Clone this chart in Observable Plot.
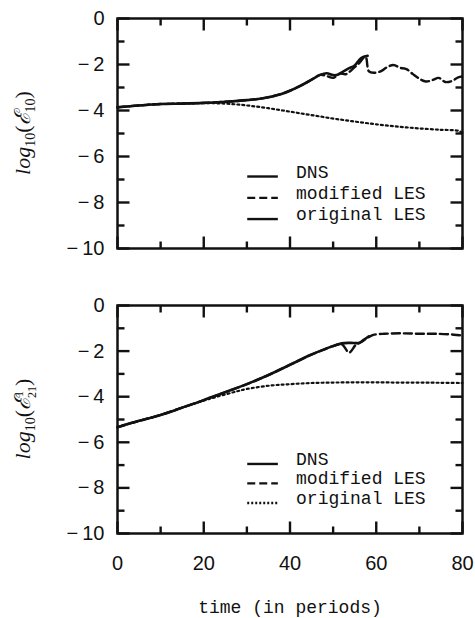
<!DOCTYPE html>
<html>
<head>
<meta charset="utf-8">
<script src="https://cdn.jsdelivr.net/npm/d3@7"></script>
<script src="https://cdn.jsdelivr.net/npm/@observablehq/plot@0.6"></script>
<style>
  body { margin: 0; background: #fff; }
  #chart svg { display: block; }
</style>
</head>
<body>
<div id="chart"></div>
<script>
// ---- Energy in mode (1,0): log10(E10) versus time (periods) ----
const e10DnsT = [0, 5, 10, 15, 20, 25, 30, 34, 38, 40, 42.5, 45, 47, 48.5, 50, 51, 52, 53.5, 55, 56.5, 58];
const e10DnsV = [-3.86, -3.78, -3.72, -3.7, -3.67, -3.62, -3.55, -3.46, -3.28, -3.14, -2.92, -2.66, -2.45, -2.38, -2.46, -2.45, -2.34, -2.18, -2.04, -1.72, -1.62];

const e10ModT = [0, 5, 10, 15, 20, 25, 30, 34, 38, 40, 42.5, 45, 47, 48.5, 50, 51.5, 53, 54.5, 56, 57.5, 58.3, 59.5, 61, 62.5, 64, 65.5, 67, 68.5, 70, 71.5, 73, 74.5, 76, 77.5, 79, 80];
const e10ModV = [-3.86, -3.78, -3.72, -3.7, -3.67, -3.62, -3.55, -3.46, -3.28, -3.14, -2.92, -2.66, -2.45, -2.5, -2.58, -2.4, -2.42, -2.2, -1.95, -1.66, -2.3, -2.36, -2.3, -2.12, -2.02, -2.14, -2.2, -2.42, -2.62, -2.74, -2.68, -2.58, -2.76, -2.72, -2.56, -2.52];

const e10OrigT = [0, 5, 10, 15, 20, 25, 30, 35, 40, 45, 50, 55, 60, 65, 70, 75, 79, 80];
const e10OrigV = [-3.86, -3.78, -3.72, -3.7, -3.68, -3.7, -3.78, -3.9, -4.05, -4.2, -4.35, -4.48, -4.6, -4.7, -4.78, -4.84, -4.88, -4.98];

// ---- Energy in the subharmonic mode: log10(E_{1/2,1}) ----
const eSubDnsT = [0, 5, 10, 15, 20, 25, 30, 35, 40, 45, 48, 50, 52, 54, 56, 57, 58.3];
const eSubDnsV = [-5.34, -5.06, -4.8, -4.48, -4.15, -3.8, -3.45, -3.05, -2.6, -2.15, -1.92, -1.78, -1.66, -1.64, -1.64, -1.52, -1.35];

const eSubModT = [0, 5, 10, 15, 20, 25, 30, 35, 40, 45, 48, 50, 52, 53.7, 55.3, 56.5, 58.3, 59.5, 62, 66, 70, 74, 78, 80];
const eSubModV = [-5.34, -5.06, -4.8, -4.48, -4.15, -3.8, -3.45, -3.05, -2.6, -2.15, -1.92, -1.78, -1.7, -2.06, -1.72, -1.6, -1.38, -1.28, -1.24, -1.22, -1.24, -1.24, -1.28, -1.32];

const eSubOrigT = [0, 5, 10, 15, 20, 22, 25, 28, 30, 35, 40, 45, 50, 55, 60, 65, 70, 75, 80];
const eSubOrigV = [-5.34, -5.06, -4.8, -4.48, -4.17, -4.06, -3.9, -3.75, -3.66, -3.52, -3.45, -3.4, -3.38, -3.37, -3.37, -3.38, -3.38, -3.39, -3.4];

// ---- Axes and legend text ----
const seriesNames = ["DNS", "modified LES", "original LES"];
const xMajorTicks = [0, 20, 40, 60, 80];
const xMinorTicks = [10, 30, 50, 70];
const yMajorTicks = [0, -2, -4, -6, -8, -10];
const yMinorTicks = [-1, -3, -5, -7, -9];
const xAxisTitle = "time (in periods)";

const WIDTH = 475;
const M_LEFT = 117, M_RIGHT = 13;
const X_DOMAIN = [0, 80], Y_DOMAIN = [-10, 0];
const MAJOR_PX = 12, MINOR_PX = 7;
const INK = "#111";
const MONO = "'Liberation Mono', 'DejaVu Sans Mono', monospace";
const SANS = "'Liberation Sans', Arial, sans-serif";
const SERIF = "'Liberation Serif', 'DejaVu Serif', serif";

const rows = (t, v) => t.map((ti, i) => ({t: ti, v: v[i]}));
const fmtY = (d) => d === 0 ? "0" : "\u2212\u2009" + Math.abs(d);

// inward tick segments on all four sides of the frame, as link endpoints in data units
function frameTickSegments(innerW, innerH) {
  const xPerPx = (X_DOMAIN[1] - X_DOMAIN[0]) / innerW;
  const yPerPx = (Y_DOMAIN[1] - Y_DOMAIN[0]) / innerH;
  const [xa, xb] = X_DOMAIN, [ya, yb] = Y_DOMAIN;
  const segs = [];
  for (const [ticks, px] of [[yMajorTicks, MAJOR_PX], [yMinorTicks, MINOR_PX]]) {
    for (const v of ticks) {
      segs.push({ax: xa, bx: xa + px * xPerPx, ay: v, by: v});
      segs.push({ax: xb - px * xPerPx, bx: xb, ay: v, by: v});
    }
  }
  for (const [ticks, px] of [[xMajorTicks, MAJOR_PX], [xMinorTicks, MINOR_PX]]) {
    for (const v of ticks) {
      segs.push({ax: v, bx: v, ay: ya, by: ya + px * yPerPx});
      segs.push({ax: v, bx: v, ay: yb - px * yPerPx, by: yb});
    }
  }
  return segs;
}

function panel({height, marginTop, marginBottom, dns, mod, orig, legendY, legendStyles, bottomAxis}) {
  const innerW = WIDTH - M_LEFT - M_RIGHT;
  const innerH = height - marginTop - marginBottom;
  const legend = seriesNames.map((name, i) => ({name, y: legendY[i], dash: legendStyles[i]}));
  const marks = [
    Plot.link(frameTickSegments(innerW, innerH), {x1: "ax", y1: "ay", x2: "bx", y2: "by",
      stroke: INK, strokeWidth: 2.4}),
    // y tick labels
    Plot.text(yMajorTicks, {x: 0, y: d => d, text: fmtY, textAnchor: "end", dx: -13,
      fontSize: 20, fontFamily: SANS, fill: INK}),
    // curves
    Plot.line(rows(orig.t, orig.v), {x: "t", y: "v", stroke: INK, strokeWidth: 2.2,
      strokeDasharray: "2,3", curve: "catmull-rom"}),
    Plot.line(rows(mod.t, mod.v), {x: "t", y: "v", stroke: INK, strokeWidth: 2.4,
      strokeDasharray: "8,4", curve: "catmull-rom"}),
    Plot.line(rows(dns.t, dns.v), {x: "t", y: "v", stroke: INK, strokeWidth: 2.6,
      curve: "catmull-rom"}),
    // legend
    ...legend.map(r => Plot.ruleY([r], {y: "y", x1: 30.2, x2: 37.3, stroke: INK,
      strokeWidth: 2.4, strokeDasharray: r.dash})),
    Plot.text(legend, {x: 41.4, y: "y", text: "name", textAnchor: "start", lineAnchor: "bottom",
      dy: 1, fontSize: 18, fontFamily: MONO, fill: INK}),
    Plot.frame({stroke: INK, strokeWidth: 2.5})
  ];
  if (bottomAxis) {
    marks.push(
      Plot.text(xMajorTicks, {x: d => d, y: -10, text: d => String(d), dy: 30,
        lineAnchor: "middle", fontSize: 20, fontFamily: SANS, fill: INK}),
      Plot.text([xAxisTitle], {frameAnchor: "bottom", text: d => d, dy: 74,
        lineAnchor: "middle", fontSize: 18, fontFamily: MONO, fill: INK})
    );
  }
  return Plot.plot({
    width: WIDTH, height,
    marginLeft: M_LEFT, marginRight: M_RIGHT, marginTop, marginBottom,
    x: {domain: X_DOMAIN, axis: null},
    y: {domain: Y_DOMAIN, axis: null},
    style: {background: "#fff", overflow: "visible"},
    marks
  });
}

// rotated y-axis title with sub/superscripts
function yTitle(svg, cy, parts) {
  const t = d3.select(svg).append("text")
    .attr("transform", `translate(30,${cy}) rotate(-90)`)
    .attr("text-anchor", "middle")
    .attr("fill", INK)
    .attr("font-family", SERIF)
    .attr("font-size", 22);
  for (const p of parts) {
    const s = t.append("tspan").text(p.text);
    if (p.dy) s.attr("dy", p.dy);
    if (p.dx) s.attr("dx", p.dx);
    if (p.size) s.attr("font-size", p.size);
    if (p.italic) s.attr("font-style", "italic");
  }
}

const upperPanel = panel({
  height: 275, marginTop: 18, marginBottom: 27,
  dns: {t: e10DnsT, v: e10DnsV}, mod: {t: e10ModT, v: e10ModV}, orig: {t: e10OrigT, v: e10OrigV},
  legendY: [-6.87, -7.8, -8.72],
  legendStyles: [null, "8,4", null],
  bottomAxis: false
});
yTitle(upperPanel, 133, [
  {text: "log", italic: true},
  {text: "10", size: 14, dy: 5},
  {text: "(", dy: -5},
  {text: "\u2130", italic: true},
  {text: "10", size: 14, dy: 5},
  {text: ")", dy: -5}
]);

const lowerPanel = panel({
  height: 343, marginTop: 30, marginBottom: 85,
  dns: {t: eSubDnsT, v: eSubDnsV}, mod: {t: eSubModT, v: eSubModV}, orig: {t: eSubOrigT, v: eSubOrigV},
  legendY: [-6.95, -7.8, -8.66],
  legendStyles: [null, "8,4", "2,2"],
  bottomAxis: true
});
yTitle(lowerPanel, 144, [
  {text: "log", italic: true},
  {text: "10", size: 14, dy: 5},
  {text: "(", dy: -5},
  {text: "\u2130", italic: true},
  {text: "1", size: 12, dy: -7},
  {text: "2", size: 12, dx: -7, dy: 13},
  {text: "1", size: 12},
  {text: ")", dy: -6}
]);

document.getElementById("chart").append(upperPanel, lowerPanel);
</script>
</body>
</html>
